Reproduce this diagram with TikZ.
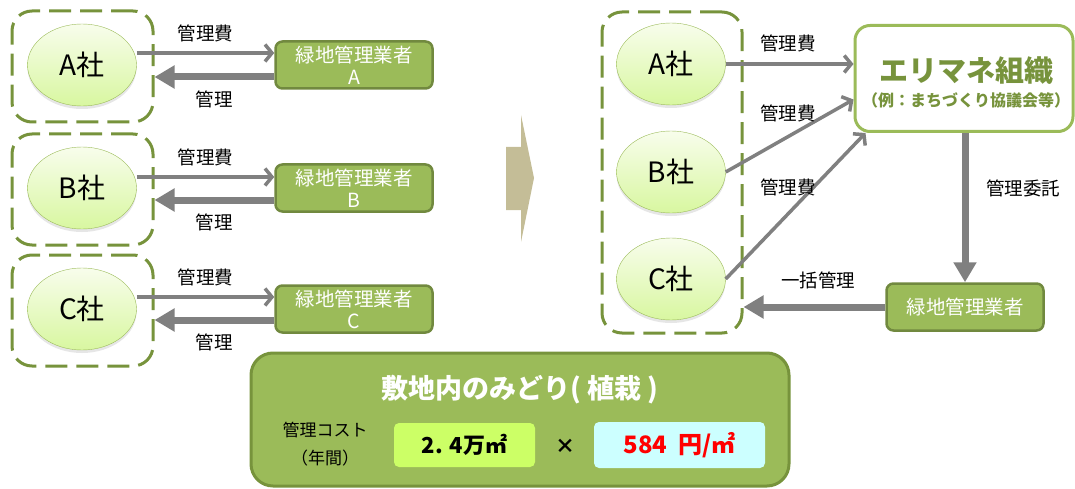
\documentclass[tikz,border=0pt]{standalone}
\usepackage{fontspec}
\setmainfont{Noto Sans CJK JP}
\usetikzlibrary{arrows.meta,shapes.geometric,shadows}
\definecolor{leaf}{HTML}{9BBB59}
\definecolor{darkleaf}{HTML}{77933C}
\definecolor{boxedge}{HTML}{71893F}
\definecolor{paletop}{HTML}{F8FDEC}
\definecolor{palebot}{HTML}{D8F7A0}
\definecolor{arrowgrey}{HTML}{808080}
\definecolor{khaki}{HTML}{C4BD97}
\definecolor{lime}{HTML}{CCFF66}
\definecolor{icecyan}{HTML}{CCFFFF}

\begin{document}
\begin{tikzpicture}[x=1pt, y=-1pt,
	group/.style={draw=darkleaf, line width=3pt, dash pattern=on 22pt off 9pt, rounded corners=20pt, inner sep=0pt},
	company/.style={ellipse, draw=leaf, top color=paletop, bottom color=palebot, minimum width=109pt, minimum height=82pt, inner sep=0pt, font=\fontsize{28pt}{30pt}\selectfont, drop shadow={shadow xshift=0pt, shadow yshift=-3pt, opacity=.2}},
	contractor/.style={draw=boxedge, fill=leaf, line width=2.5pt, rounded corners=7pt, minimum width=157pt, minimum height=47pt, inner sep=0pt, text=white, align=center, font=\fontsize{19.5pt}{22pt}\selectfont},
	lbl/.style={font=\fontsize{18.5pt}{20pt}\selectfont, inner sep=2pt},
	fee/.style={draw=arrowgrey, line width=3.5pt, -{Straight Barb[length=7pt,width=17pt]}},
	back/.style={draw=arrowgrey, line width=7pt, -{Triangle[length=20pt,width=22pt]}}]
\useasboundingbox (0,0) rectangle (1075,489);

% left side: each company with its own contractor
	\node[group, minimum width=141pt, minimum height=111pt] (grpA) at (82.5,66.5) {};
	\node[group, minimum width=141pt, minimum height=111pt] (grpB) at (82.5,189.5) {};
	\node[group, minimum width=141pt, minimum height=111pt] (grpC) at (82.5,310.5) {};

	\node[company] (ellA) at (82,65) {A社};
	\node[company] (ellB) at (82,188) {B社};
	\node[company] (ellC) at (82,309) {C社};

	\node[contractor] (boxA) at (354,65) {緑地管理業者\\A};
	\node[contractor] (boxB) at (354,188) {緑地管理業者\\B};
	\node[contractor] (boxC) at (354,309) {緑地管理業者\\C};

	\draw[fee] ([yshift=12pt]ellA.east) -- node[lbl, above=7pt] {管理費} ([yshift=12pt]boxA.west);
	\draw[back] ([yshift=-12pt]boxA.west) -- node[lbl, below=8pt] {管理} ([yshift=-10.5pt]grpA.east);
	\draw[fee] ([yshift=11pt]ellB.east) -- node[lbl, above=7pt] {管理費} ([yshift=11pt]boxB.west);
	\draw[back] ([yshift=-12pt]boxB.west) -- node[lbl, below=8pt] {管理} ([yshift=-10.5pt]grpB.east);
	\draw[fee] ([yshift=12pt]ellC.east) -- node[lbl, above=7pt] {管理費} ([yshift=12pt]boxC.west);
	\draw[back] ([yshift=-11pt]boxC.west) -- node[lbl, below=8pt] {管理} ([yshift=-9.5pt]grpC.east);

% big arrow
	\fill[khaki] (506,147) -- (521,147) -- (521,115) -- (534,178) -- (521,242) -- (521,210) -- (506,210) -- cycle;

% right side: area management
	\node[group, minimum width=140pt, minimum height=321pt] (grpR) at (672,172.5) {};
	\node[company] (ellRA) at (671,64) {A社};
	\node[company] (ellRB) at (671,172) {B社};
	\node[company] (ellRC) at (671,279) {C社};

	\node[draw=leaf, fill=white, line width=3pt, rounded corners=15pt, minimum width=218pt, minimum height=106pt] (org) at (964,78.5) {};
	\node[text=darkleaf, font=\fontsize{29pt}{30pt}\selectfont\bfseries] (orgT) at (966,71) {エリマネ組織};
	\node[text=darkleaf, font=\fontsize{16pt}{18pt}\selectfont\bfseries] (orgS) at (966,100) {（例：まちづくり協議会等）};

	\node[contractor] (gyo) at (965,307) {緑地管理業者};

	\draw[fee] (ellRA.east) -- (ellRA.east -| org.west);
	\draw[fee] (ellRB.east) -- ([yshift=-21pt]org.west);
	\draw[fee] (ellRC.east) -- ([xshift=12pt]org.south west);
	\node[lbl] (feeRA) at (788,43) {管理費};
	\node[lbl] (feeRB) at (788,113) {管理費};
	\node[lbl] (feeRC) at (788,187) {管理費};

	\draw[back] (org.south -| gyo.north) -- (gyo.north);
	\node[lbl] (itaku) at (1023,188) {管理委託};
	\draw[back] (gyo.west) -- (gyo.west -| grpR.east);
	\node[lbl] (ikkatsu) at (818,280) {一括管理};

% cost box
	\node[draw=darkleaf, fill=leaf, line width=3pt, rounded corners=22pt, minimum width=538pt, minimum height=133pt] (cost) at (520,419.5) {};
	\node[text=white, font=\fontsize{27pt}{30pt}\selectfont\bfseries] (costT) at (520,390) {敷地内のみどり( 植栽 )};
	\node[align=center, font=\fontsize{17pt}{28pt}\selectfont] (costL) at (325,444) {管理コスト\\（年間）};
	\node[fill=lime, rounded corners=5pt, minimum width=141pt, minimum height=44pt, font=\fontsize{22pt}{24pt}\selectfont\bfseries] (area) at (464.5,445) {2. 4万㎡};
	\node[font=\fontsize{20pt}{22pt}\selectfont\bfseries] (times) at (565,446) {×};
	\node[fill=icecyan, rounded corners=5pt, minimum width=171pt, minimum height=46pt, text=red, font=\fontsize{24pt}{26pt}\selectfont\bfseries] (price) at (679.5,445) {584\ \ 円/㎡};
\end{tikzpicture}
\end{document}
